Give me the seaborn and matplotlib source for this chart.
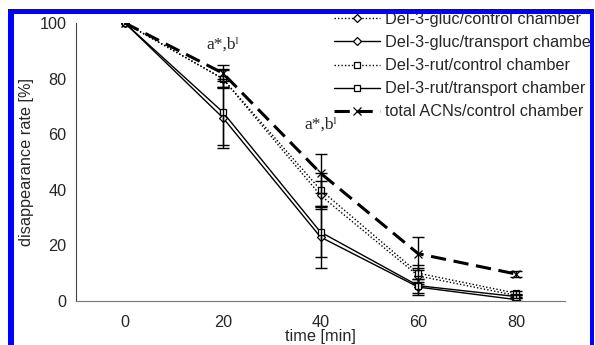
import pandas as pd
import numpy as np
import seaborn as sns
import matplotlib.pyplot as plt
from matplotlib.patches import Rectangle
plt.switch_backend('agg')

times = [0, 20, 40, 60, 80]
series_names = ['Del-3-gluc/control chamber', 'Del-3-gluc/transport chambe',
                'Del-3-rut/control chamber', 'Del-3-rut/transport chamber',
                'total ACNs/control chamber']
gluc_control = [100, 80, 38, 9, 2]
gluc_transport = [100, 66, 23, 5, 0.5]
rut_control = [100, 80, 40, 10, 2.8]
rut_transport = [100, 68, 24.8, 5.5, 1.6]
acn_control = [100, 82, 46, 17, 9.7]
gluc_control_err = [0, 3, 5, 3, 0.5]
gluc_transport_err = [0, 11, 11, 3, 0.5]
rut_control_err = [0, 3.5, 6, 3, 0.7]
rut_transport_err = [0, 12, 9, 2.5, 0.6]
acn_control_err = [0, 3, 7, 6, 1]
annot_text = 'a*,b\u02e1'
annot_pos = [(20, 89.5), (40, 60.5)]

values = [gluc_control, gluc_transport, rut_control, rut_transport, acn_control]
errors = [gluc_control_err, gluc_transport_err, rut_control_err, rut_transport_err, acn_control_err]
styles = [
    dict(ls=(0, (1, 1.5)), lw=1.0, marker='D', ms=4),
    dict(ls='-', lw=1.0, marker='D', ms=4),
    dict(ls=(0, (1, 1.5)), lw=1.0, marker='s', ms=5),
    dict(ls='-', lw=1.0, marker='s', ms=5),
    dict(ls=(0, (5, 2.5)), lw=2.2, marker='x', ms=6),
]

sns.set_style('white')
plt.rcParams['font.family'] = ['Liberation Sans', 'DejaVu Sans']
fs = 11.7

fig = plt.figure(figsize=(5.95, 3.45), dpi=100)
ax = fig.add_axes([76 / 595, 44 / 345, (565 - 76) / 595, (301 - 23) / 345])

for name, vals, err, st in zip(series_names, values, errors, styles):
    df = pd.DataFrame({'time': times, 'rate': vals})
    sns.lineplot(data=df, x='time', y='rate', ax=ax, color='black', linestyle=st['ls'],
                 linewidth=st['lw'], marker=st['marker'], markersize=st['ms'],
                 markerfacecolor='white', markeredgecolor='black', markeredgewidth=0.9,
                 label=name)
    ax.errorbar(times[1:], vals[1:], yerr=err[1:], fmt='none', ecolor='black',
                elinewidth=1.0, capsize=4, capthick=1.0)

for x, y in annot_pos:
    ax.text(x, y, annot_text, ha='center', va='bottom', fontsize=12.5,
            family=['Liberation Serif', 'DejaVu Serif'])

ax.set_xlim(-10, 90)
ax.set_ylim(0, 100)
ax.set_xticks([-10, 0, 10, 30, 50, 70, 90])
ax.set_xticklabels([])
for t in times:
    ax.text(t, -5.0, str(t), ha='center', va='top', fontsize=fs)
ax.set_yticks([0, 20, 40, 60, 80, 100])
ax.tick_params(axis='y', direction='out', length=4, width=0.8, color='#444', labelsize=fs, pad=3)
ax.tick_params(axis='x', direction='out', length=4, width=0.8, color='#777')
ax.set_xlabel('')
ax.set_ylabel('disappearance rate [%]', fontsize=fs, labelpad=4)
fig.text(320 / 595, 1 - 344 / 345, 'time [min]', ha='center', va='bottom', fontsize=fs)
sns.despine(ax=ax)
ax.spines['left'].set_color('#444')
ax.spines['bottom'].set_color('#777')
ax.spines['left'].set_linewidth(0.8)
ax.spines['bottom'].set_linewidth(0.8)

ax.legend(loc='upper left', bbox_to_anchor=(334 / 595, 1 - 12 / 345), bbox_transform=fig.transFigure,
          frameon=False, fontsize=fs, handlelength=2.8, handletextpad=0.35, labelspacing=0.5,
          borderpad=0, borderaxespad=0)

# blue frame around the figure
for x0, y0, w, h in [(8, 0, 6, 336), (8, 331, 586, 5), (590, 0, 4, 336)]:
    fig.add_artist(Rectangle((x0 / 595, y0 / 345), w / 595, h / 345, transform=fig.transFigure,
                             facecolor='#0000ff', edgecolor='none', zorder=10))

fig.savefig('out.png', dpi=100)
plt.close()
